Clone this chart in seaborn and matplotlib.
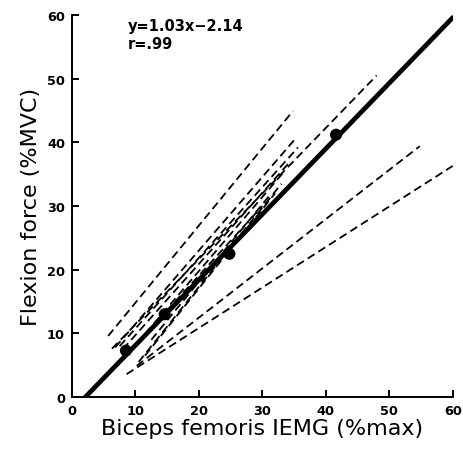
import matplotlib
matplotlib.use("Agg")
import matplotlib.pyplot as plt
import seaborn as sns
import pandas as pd

sns.set_style("ticks")
plt.rcParams['font.family'] = ['DejaVu Sans']
plt.rcParams['text.color'] = 'black'
plt.rcParams['axes.labelcolor'] = 'black'
plt.rcParams['xtick.color'] = 'black'
plt.rcParams['ytick.color'] = 'black'
plt.rcParams['axes.edgecolor'] = 'black'

# mean regression line
fit_x = [2.1, 60.0]
fit_y = [0.0, 59.6]

# mean data points
pts_x = [8.5, 14.6, 20.6, 24.8, 41.6]
pts_y = [7.3, 13.0, 18.5, 22.5, 41.2]
pts_s = [75, 75, 15, 75, 75]

# individual subject regression lines (start x, start y, end x, end y)
ind_x0 = [5.7, 6.3, 6.8, 7.5, 8.0, 9.0, 10.5, 11.5, 12.5, 10.2, 8.6, 13.5]
ind_y0 = [9.6, 7.6, 7.8, 8.0, 7.5, 7.0, 5.5, 6.5, 9.0, 4.9, 3.6, 12.0]
ind_x1 = [34.8, 48.0, 35.4, 35.6, 34.3, 33.5, 33.0, 32.0, 31.0, 54.8, 60.0, 30.0]
ind_y1 = [44.9, 50.5, 40.8, 39.2, 36.9, 35.5, 33.5, 32.0, 31.5, 39.4, 36.3, 30.0]

fig = plt.figure(figsize=(4.63, 4.56), dpi=100)
ax = fig.add_axes([0.1555, 0.127, 0.8225, 0.838])

for i in range(len(ind_x0)):
    df = pd.DataFrame({"x": [ind_x0[i], ind_x1[i]], "y": [ind_y0[i], ind_y1[i]]})
    sns.lineplot(data=df, x="x", y="y", ax=ax, color="black", lw=1.3,
                 linestyle=(0, (4.5, 2.5)), sort=False)

sns.lineplot(x=fit_x, y=fit_y, ax=ax, color="black", lw=3.4, sort=False)
sns.scatterplot(x=pts_x, y=pts_y, s=pts_s, color="black", ax=ax, zorder=5,
                edgecolor="black", linewidth=0)

ax.set_xlim(0, 60)
ax.set_ylim(0, 60)
ax.set_xticks(range(0, 61, 10))
ax.set_yticks(range(0, 61, 10))
ax.tick_params(direction="in", length=5, width=1.4, labelsize=9.3, pad=5,
               colors="black")
for lab in ax.get_xticklabels() + ax.get_yticklabels():
    lab.set_fontweight("bold")
for s in ["top", "right"]:
    ax.spines[s].set_visible(False)
for s in ["left", "bottom"]:
    ax.spines[s].set_linewidth(1.4)
    ax.spines[s].set_color("black")

ax.set_xlabel("Biceps femoris IEMG (%max)", fontsize=16, labelpad=1, color="black")
ax.set_ylabel("Flexion force (%MVC)", fontsize=16, labelpad=4, color="black")

ax.text(8.8, 59.6, "y=1.03x\u22122.14\nr=.99", fontsize=10.5, fontweight="bold",
        va="top", ha="left", linespacing=1.25, color="black")

fig.savefig("out.png", dpi=100)
